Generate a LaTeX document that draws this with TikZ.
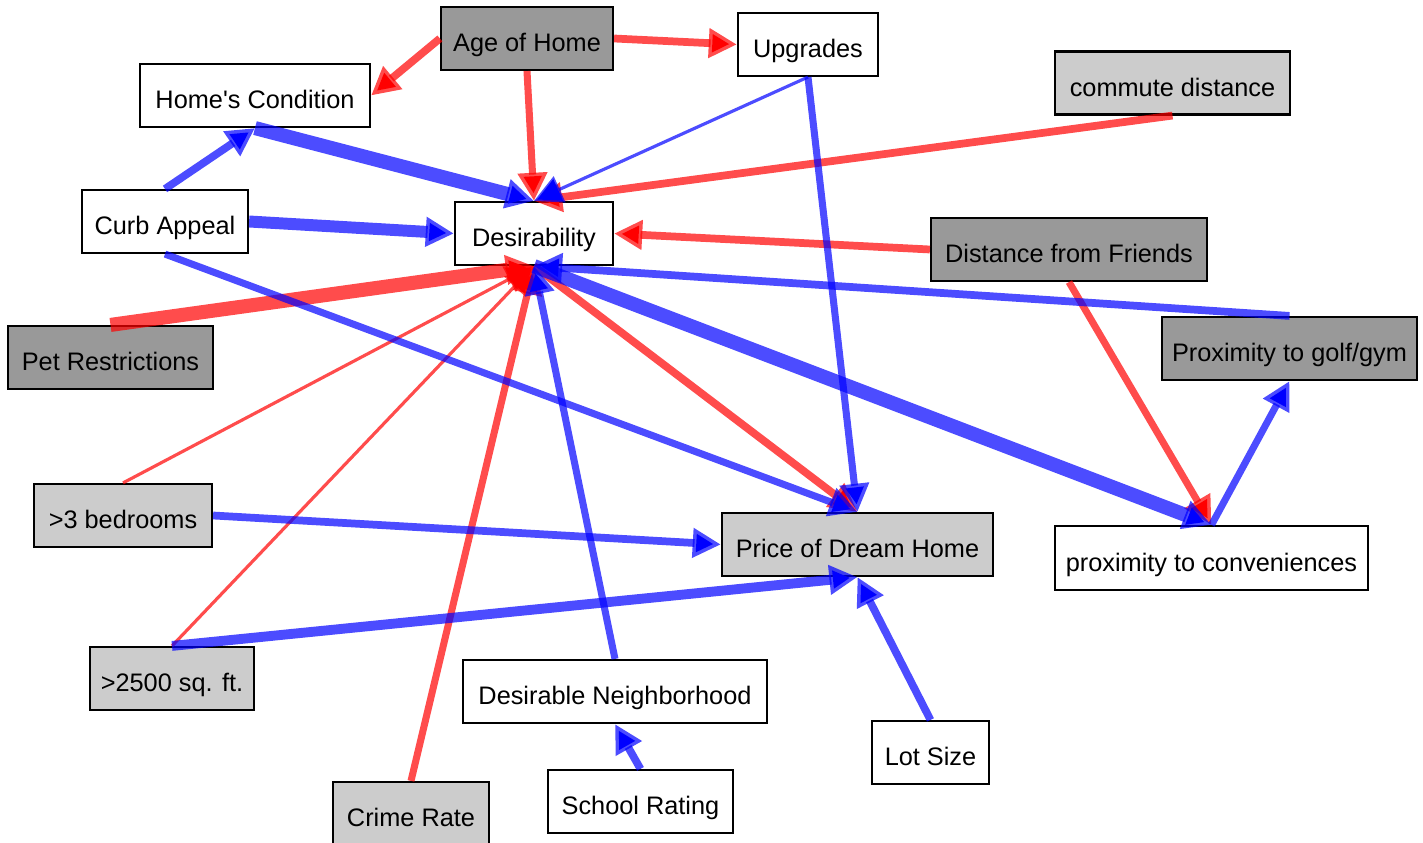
\documentclass[tikz,border=0pt]{standalone}
\usepackage{fontspec}
\setmainfont{Liberation Sans}
\usetikzlibrary{arrows.meta}
\definecolor{darkbox}{HTML}{999999}
\definecolor{lightbox}{HTML}{CCCCCC}

\begin{document}
\begin{tikzpicture}[x=0.01cm,y=-0.01cm,>={Triangle[length=8pt,width=8pt]},
        box/.style={draw, rectangle, line width=0.6pt, minimum height=0.63cm, inner sep=0pt, text height=7.4pt, text depth=0pt, font=\fontsize{7.2}{8.6}\selectfont},
        redarc/.style={->, draw=red, draw opacity=0.7, line width=2.2pt},
        bluearc/.style={->, draw=blue, draw opacity=0.7, line width=2.2pt}]
        \useasboundingbox (0,0) rectangle (1423,843);

        \node (age) [box, fill=darkbox, minimum width=1.72cm] at (527,38.5) {Age of Home};
        \node (upg) [box, fill=white, minimum width=1.40cm] at (808,44.5) {Upgrades};
        \node (home) [box, fill=white, minimum width=2.30cm] at (255,95.5) {Home\textquotesingle s Condition};
        \node (commute) [box, fill=lightbox, minimum width=2.35cm] at (1172.5,83) {commute distance};
        \node (curb) [box, fill=white, minimum width=1.66cm] at (165,221.5) {Curb Appeal};
        \node (desir) [box, fill=white, minimum width=1.58cm] at (534,233.5) {Desirability};
        \node (friends) [box, fill=darkbox, minimum width=2.76cm] at (1069,249.5) {Distance from Friends};
        \node (pet) [box, fill=darkbox, minimum width=2.05cm] at (110.5,357.5) {Pet Restrictions};
        \node (golf) [box, fill=darkbox, minimum width=2.55cm] at (1289.5,348.5) {Proximity to golf/gym};
        \node (bed) [box, fill=lightbox, minimum width=1.78cm] at (123,515.5) {>3 bedrooms};
        \node (price) [box, fill=lightbox, minimum width=2.71cm] at (857.5,544.5) {Price of Dream Home};
        \node (conv) [box, fill=white, minimum width=3.13cm, minimum height=0.64cm] at (1211.5,558) {proximity to conveniences};
        \node (sqft) [box, fill=lightbox, minimum width=1.64cm] at (172,678.5) {>2500 sq. ft.};
        \node (nbhd) [box, fill=white, minimum width=3.04cm] at (615,691.5) {Desirable Neighborhood};
        \node (lot) [box, fill=white, minimum width=1.17cm] at (930.5,752.5) {Lot Size};
        \node (crime) [box, fill=lightbox, minimum width=1.56cm] at (411,813.5) {Crime Rate};
        \node (school) [box, fill=white, minimum width=1.85cm] at (640.5,801.5) {School Rating};

        % red: negative influence, blue: positive influence
        \draw[redarc] (age.west) -- (home.east);
        \draw[redarc] (age.east) -- (upg.west);
        \draw[redarc, line width=2pt] (age.south) -- (desir.north);
        \draw[redarc] (commute.south) -- (desir.north);
        \draw[redarc] (friends.west) -- (desir.east);
        \draw[redarc, line width=2pt] (friends.south) -- (conv.north);
        \draw[redarc, line width=4pt] (pet.north) -- (desir.south);
        \draw[redarc] (desir.south) -- (price.north);
        \draw[redarc, line width=0.9pt] (bed.north) -- (desir.south);
        \draw[redarc, line width=0.9pt] (sqft.north) -- (desir.south);
        \draw[redarc, line width=2pt] (crime.north) -- (desir.south);

        \draw[bluearc, line width=4pt] (home.south) -- (desir.north);
        \draw[bluearc] (curb.north) -- (home.south);
        \draw[bluearc, line width=3.4pt] (curb.east) -- (desir.west);
        \draw[bluearc, line width=2pt] (curb.south) -- (price.north);
        \draw[bluearc, line width=0.9pt] (upg.south) -- (desir.north);
        \draw[bluearc, line width=2pt] (upg.south) -- (price.north);
        \draw[bluearc] (golf.north) -- (desir.south);
        \draw[bluearc, line width=4pt] (desir.south) -- (conv.north);
        \draw[bluearc, line width=2pt] (conv.north) -- (golf.south);
        \draw[bluearc] (bed.east) -- (price.west);
        \draw[bluearc, line width=2.8pt] (sqft.north) -- (price.south);
        \draw[bluearc, line width=2pt] (nbhd.north) -- (desir.south);
        \draw[bluearc] (school.north) -- (nbhd.south);
        \draw[bluearc] (lot.north) -- (price.south);
    \end{tikzpicture}
\end{document}
